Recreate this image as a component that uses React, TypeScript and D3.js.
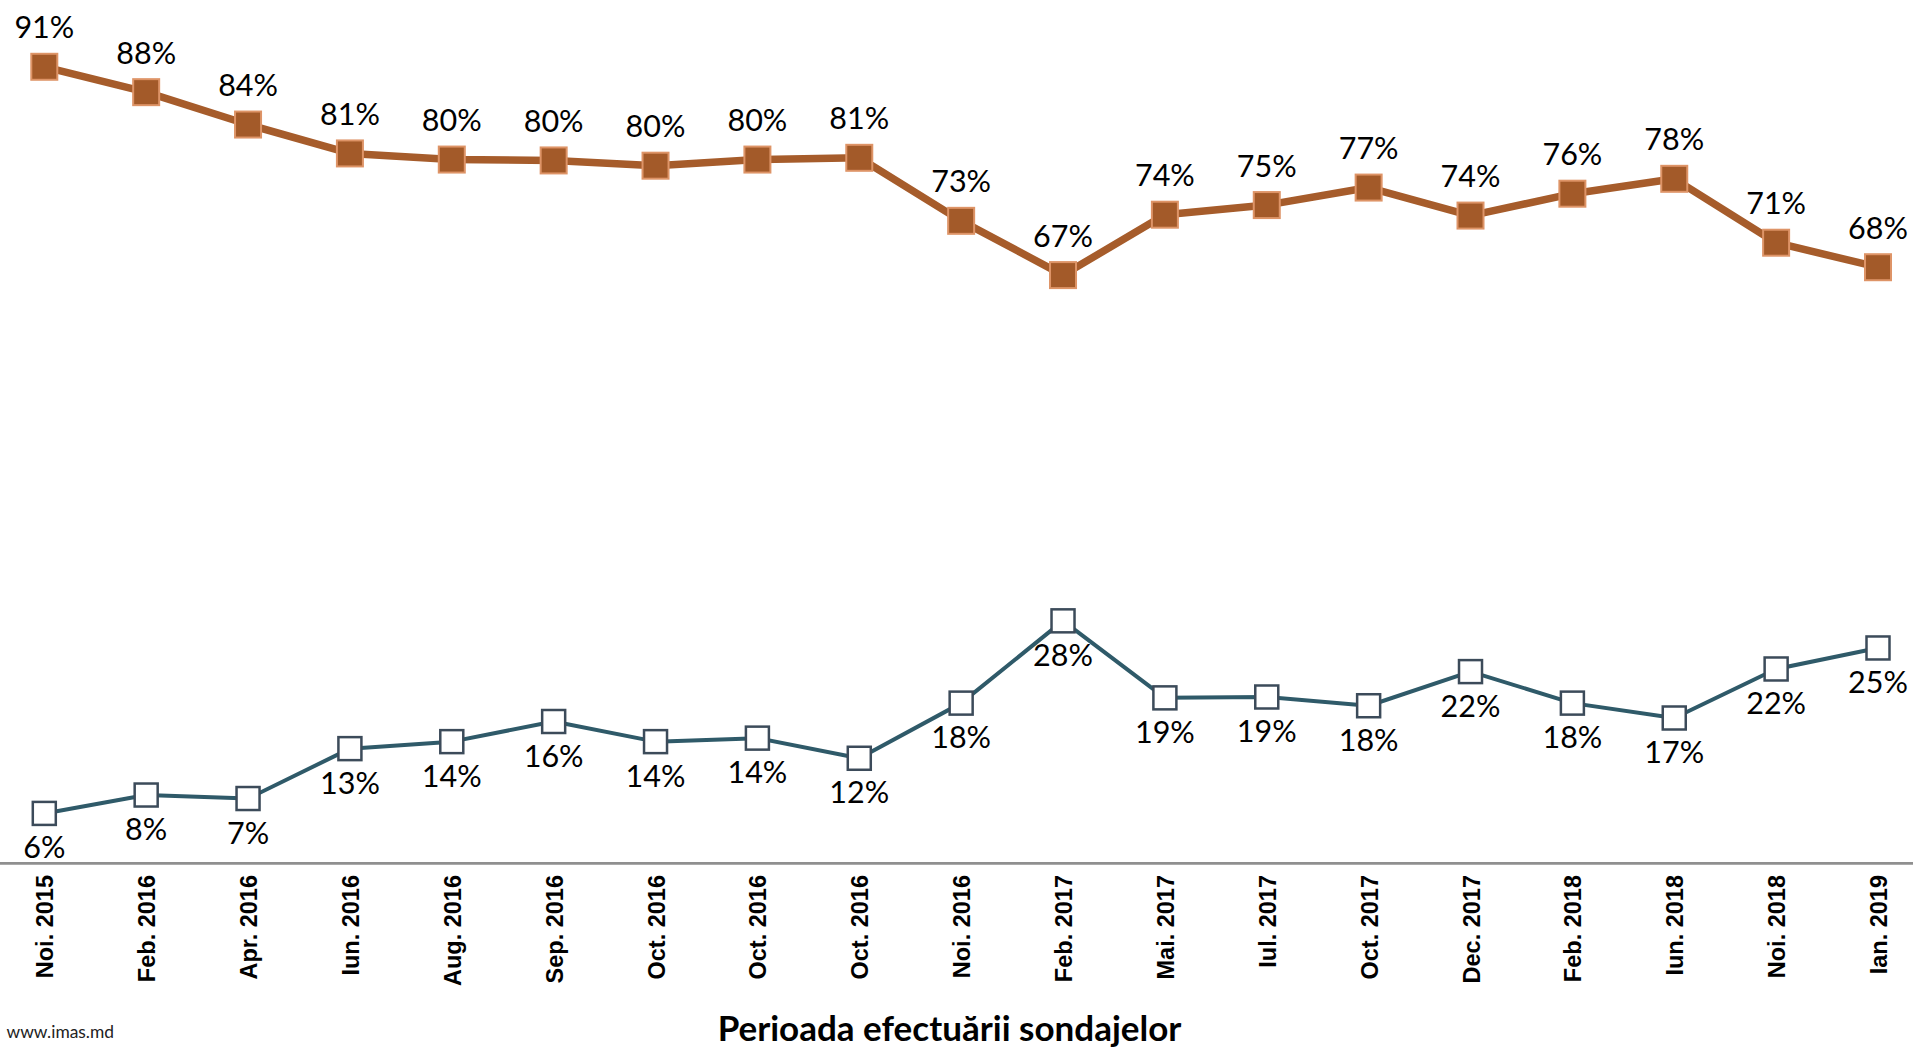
import React, { useEffect } from "react";
import * as d3 from "d3";

const categories = [
  "Noi. 2015", "Feb. 2016", "Apr. 2016", "Iun. 2016", "Aug. 2016", "Sep. 2016",
  "Oct. 2016", "Oct. 2016", "Oct. 2016", "Noi. 2016", "Feb. 2017", "Mai. 2017",
  "Iul. 2017", "Oct. 2017", "Dec. 2017", "Feb. 2018", "Iun. 2018", "Noi. 2018", "Ian. 2019",
];

const seriesTop = [91, 88.1, 84.4, 81.1, 80.4, 80.3, 79.7, 80.4, 80.6, 73.4, 67.2, 74.1, 75.2, 77.2, 74.0, 76.5, 78.2, 70.9, 68.1];
const labelsTop = ["91%", "88%", "84%", "81%", "80%", "80%", "80%", "80%", "81%", "73%", "67%", "74%", "75%", "77%", "74%", "76%", "78%", "71%", "68%"];

const seriesBottom = [5.7, 7.8, 7.4, 13.1, 13.9, 16.2, 13.9, 14.3, 12.0, 18.3, 27.7, 18.9, 19.0, 18.0, 21.9, 18.3, 16.6, 22.2, 24.6];
const labelsBottom = ["6%", "8%", "7%", "13%", "14%", "16%", "14%", "14%", "12%", "18%", "28%", "19%", "19%", "18%", "22%", "18%", "17%", "22%", "25%"];

const W = 1913;
const H = 1049;

export default function App() {
  useEffect(() => {
    document.body.style.margin = "0";
  }, []);

  const idx = categories.map((_, i) => i);
  const x = d3.scalePoint<number>().domain(idx).range([44.3, 1878]);
  const y = d3.scaleLinear().domain([0, 100]).range([863.3, -12]);

  const line = d3
    .line<number>()
    .x((_, i) => x(i) as number)
    .y((d) => y(d));

  const labelFont = "Lato, 'Open Sans', sans-serif";

  return (
    <svg width={W} height={H} style={{ display: "block", background: "#fff" }}>
      {/* x axis line */}
      <line x1={0} x2={W} y1={y(0)} y2={y(0)} stroke="#8f8f8f" strokeWidth={2.7} />

      {/* top series */}
      <path d={line(seriesTop) || ""} fill="none" stroke="#A65C2B" strokeWidth={7.5} strokeLinejoin="round" />
      {seriesTop.map((v, i) => (
        <rect
          key={"mt" + i}
          x={(x(i) as number) - 13}
          y={y(v) - 13}
          width={26}
          height={26}
          fill="#A35A29"
          stroke="#DE9467"
          strokeWidth={2}
        />
      ))}
      {seriesTop.map((v, i) => (
        <text
          key={"lt" + i}
          x={x(i) as number}
          y={y(v) - 28.5}
          textAnchor="middle"
          fontFamily={labelFont}
          fontSize={30.5}
          fill="#000"
        >
          {labelsTop[i]}
        </text>
      ))}

      {/* bottom series */}
      <path d={line(seriesBottom) || ""} fill="none" stroke="#2F5A69" strokeWidth={4} strokeLinejoin="round" />
      {seriesBottom.map((v, i) => (
        <rect
          key={"mb" + i}
          x={(x(i) as number) - 11.5}
          y={y(v) - 11.5}
          width={23}
          height={23}
          fill="#ffffff"
          stroke="#3C4B5A"
          strokeWidth={2.5}
        />
      ))}
      {seriesBottom.map((v, i) => (
        <text
          key={"lb" + i}
          x={x(i) as number}
          y={y(v) + 45}
          textAnchor="middle"
          fontFamily={labelFont}
          fontSize={30.5}
          fill="#000"
        >
          {labelsBottom[i]}
        </text>
      ))}

      {/* category labels */}
      {categories.map((c, i) => (
        <text
          key={"c" + i}
          transform={`translate(${(x(i) as number) + 9},${875}) rotate(-90)`}
          textAnchor="end"
          fontFamily="'Liberation Sans', Arial, sans-serif"
          fontWeight="bold"
          fontSize={23.5}
          fill="#000"
        >
          {c}
        </text>
      ))}

      {/* axis title */}
      <text
        x={949.5}
        y={1041}
        textAnchor="middle"
        fontFamily={labelFont}
        fontWeight="bold"
        fontSize={35}
        fill="#000"
      >
        Perioada efectuării sondajelor
      </text>

      {/* source */}
      <text x={6.5} y={1038} fontFamily={labelFont} fontSize={17.4} fill="#222">
        www.imas.md
      </text>
    </svg>
  );
}
